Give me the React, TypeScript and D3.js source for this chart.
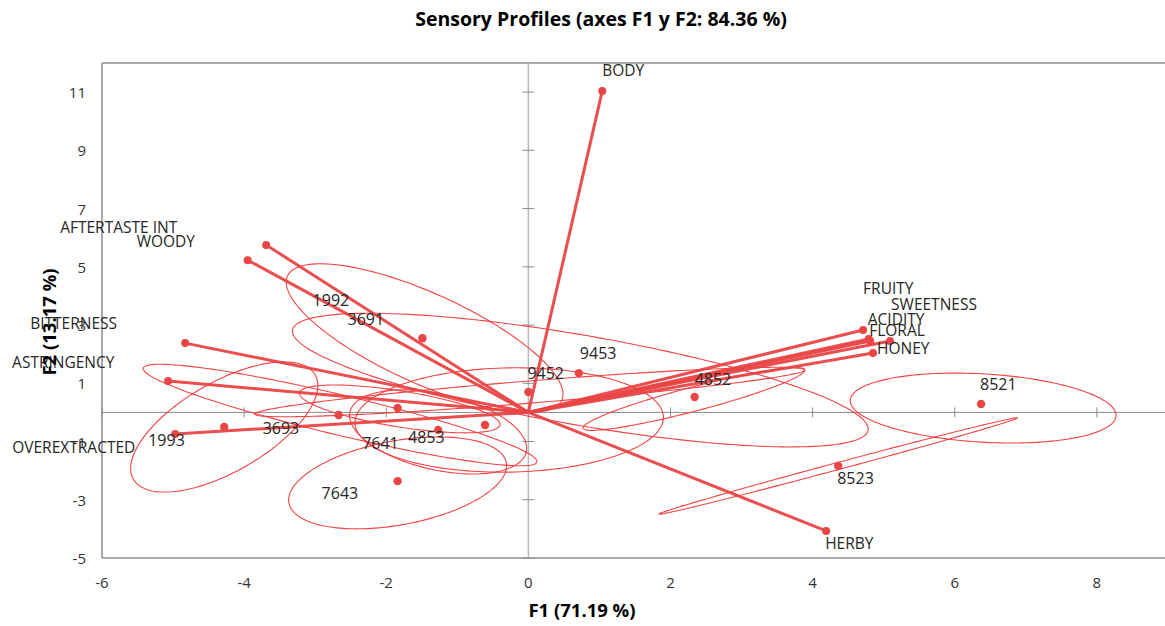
import React from 'react';
import * as d3 from 'd3';

// variable loadings (arrows)
const variables = ['BODY', 'AFTERTASTE INT', 'WOODY', 'BITTERNESS', 'ASTRINGENCY', 'OVEREXTRACTED',
  'FRUITY', 'SWEETNESS', 'ACIDITY', 'FLORAL', 'HONEY', 'HERBY'];
const varF1 = [1.04, -3.69, -3.95, -4.83, -5.07, -4.97, 4.71, 5.09, 4.79, 4.81, 4.85, 4.19];
const varF2 = [11.04, 5.75, 5.23, 2.38, 1.08, -0.74, 2.83, 2.45, 2.52, 2.45, 2.04, -4.07];

// observations
const samples = ['1993', '3693', '1992', '3691', '7643', '7641', '4853', '9452', '9453', '4852', '8521', '8523'];
const sampleF1 = [-4.28, -2.67, -1.84, -1.49, -1.84, -1.27, -0.61, 0.0, 0.71, 2.34, 6.37, 4.36];
const sampleF2 = [-0.5, -0.09, 0.15, 2.55, -2.36, -0.6, -0.43, 0.7, 1.35, 0.53, 0.29, -1.84];

// confidence ellipses per sample: centre and two semi-axis vectors (F1/F2 units)
const ellCx = [-4.28, -2.65, -1.81, -1.46, -1.84, -1.27, -0.27, 0.02, 0.73, 2.33, 6.4, 4.36];
const ellCy = [-0.5, -0.09, 0.12, 2.55, -2.42, -0.67, -0.26, 0.7, 1.11, 0.46, 0.15, -1.84];
const ellAx = [1.28, 2.77, 1.41, 1.93, 1.53, 1.24, 2.17, 3.87, 4.05, 1.56, 1.87, 2.52];
const ellAy = [1.79, -1.61, -0.55, -2.13, 0.69, -0.69, 0.1, 0.76, -1.72, 1.0, -0.27, 1.65];
const ellBx = [0.31, -0.065, -0.04, -0.26, 0.107, -0.12, 0.014, 0.012, -0.108, 0.043, -0.029, 0.013];
const ellBy = [-1.34, -0.67, -0.61, -1.41, -1.42, -1.27, -1.79, -0.38, -1.52, -0.4, -1.17, -0.117];

const xTicks = [-6, -4, -2, 0, 2, 4, 6, 8];
const yTicks = [-5, -3, -1, 1, 3, 5, 7, 9, 11];

// label nudges in px (text start, vertical centre)
const varLabelOff: Record<string, number[]> = {
  'BODY': [0, -21], 'AFTERTASTE INT': [-206, -18], 'WOODY': [-111, -19], 'BITTERNESS': [-155, -20],
  'ASTRINGENCY': [-156, -19], 'OVEREXTRACTED': [-163, 13], 'FRUITY': [0, -42], 'SWEETNESS': [1, -37],
  'ACIDITY': [-1, -20], 'FLORAL': [-1, -11], 'HONEY': [4, -5], 'HERBY': [-1, 12],
};
const sampleLabelOff: Record<string, number[]> = {
  '1993': [-76, 13], '3693': [-76, 13], '1992': [-85, -108], '3691': [-75, -19], '7643': [-76, 12],
  '7641': [-76, 13], '4853': [-77, 12], '9452': [-1, -19], '9453': [1, -20], '4852': [0, -18],
  '8521': [-1, -20], '8523': [-1, 12],
};

const W = 1165, H = 626;
const RED = '#E94545';
const FONT = '"Open Sans", sans-serif';

export default function App() {
  const x = d3.scaleLinear().domain([-6, 10]).range([102, 1239]);
  const y = d3.scaleLinear().domain([-5, 12]).range([558, 63]);

  const ellLine = d3.line<number[]>()
    .x(d => x(d[0]))
    .y(d => y(d[1]))
    .curve(d3.curveLinearClosed);

  const ellipses = samples.map((s, i) => {
    const pts = d3.range(0, 2 * Math.PI, Math.PI / 90).map(t => [
      ellCx[i] + ellAx[i] * Math.cos(t) + ellBx[i] * Math.sin(t),
      ellCy[i] + ellAy[i] * Math.cos(t) + ellBy[i] * Math.sin(t),
    ]);
    return <path key={'e' + s} d={ellLine(pts) || ''} fill="none" stroke="#F03A3A" strokeWidth={1.1} opacity={0.95} />;
  });

  return (
    <svg width={W} height={H} style={{ position: 'absolute', left: 0, top: 0, background: '#fff' }}
      fontFamily={FONT}>
      <rect width={W} height={H} fill="#fff" />
      <text x={601} y={18} textAnchor="middle" dominantBaseline="central" fontSize={19.5} fontWeight={700} fill="#000">
        Sensory Profiles (axes F1 y F2: 84.36 %)
      </text>

      {/* frame */}
      <line x1={102} x2={W} y1={63} y2={63} stroke="#8c8c8c" strokeWidth={1.5} />
      <line x1={102} x2={W} y1={558} y2={558} stroke="#8c8c8c" strokeWidth={1.5} />
      <line x1={102} x2={102} y1={63} y2={558} stroke="#8c8c8c" strokeWidth={1.5} />

      {/* zero axes with ticks */}
      <line x1={102} x2={W} y1={y(0)} y2={y(0)} stroke="#8c8c8c" strokeWidth={1} />
      <line x1={x(0)} x2={x(0)} y1={63} y2={558} stroke="#b8b8b8" strokeWidth={1.5} />
      {xTicks.map(t => (
        <line key={'xt' + t} x1={x(t)} x2={x(t)} y1={y(0) - 5} y2={y(0) + 5} stroke="#8c8c8c" />
      ))}
      {yTicks.map(t => (
        <line key={'yt' + t} x1={x(0) - 6} x2={x(0) + 6} y1={y(t)} y2={y(t)} stroke="#8c8c8c" />
      ))}

      {xTicks.map(t => (
        <text key={'xl' + t} x={x(t)} y={582} textAnchor="middle" dominantBaseline="central" fontSize={15} fill="#333">{t}</text>
      ))}
      {yTicks.map(t => (
        <text key={'yl' + t} x={86} y={y(t)} textAnchor="end" dominantBaseline="central" fontSize={15} fill="#333">{t}</text>
      ))}

      {ellipses}

      {/* arrows */}
      {variables.map((v, i) => (
        <g key={'v' + v}>
          <line x1={x(0)} y1={y(0)} x2={x(varF1[i])} y2={y(varF2[i])} stroke={RED} strokeWidth={3} opacity={0.95} />
          <circle cx={x(varF1[i])} cy={y(varF2[i])} r={4} fill={RED} />
        </g>
      ))}

      {samples.map((s, i) => (
        <circle key={'s' + s} cx={x(sampleF1[i])} cy={y(sampleF2[i])} r={4.2} fill={RED} />
      ))}

      {variables.map((v, i) => (
        <text key={'vl' + v} x={x(varF1[i]) + varLabelOff[v][0]} y={y(varF2[i]) + varLabelOff[v][1]}
          dominantBaseline="central" fontSize={15.5} fill="#262626">{v}</text>
      ))}
      {samples.map((s, i) => (
        <text key={'sl' + s} x={x(sampleF1[i]) + sampleLabelOff[s][0]} y={y(sampleF2[i]) + sampleLabelOff[s][1]}
          dominantBaseline="central" fontSize={16} fill="#262626">{s}</text>
      ))}

      <text x={582} y={609} textAnchor="middle" dominantBaseline="central" fontSize={18.5} fontWeight={700} fill="#000">
        F1 (71.19 %)
      </text>
      <text transform="translate(48,322) rotate(-90)" textAnchor="middle" dominantBaseline="central"
        fontSize={18.5} fontWeight={700} fill="#000">
        F2 (13.17 %)
      </text>
    </svg>
  );
}
